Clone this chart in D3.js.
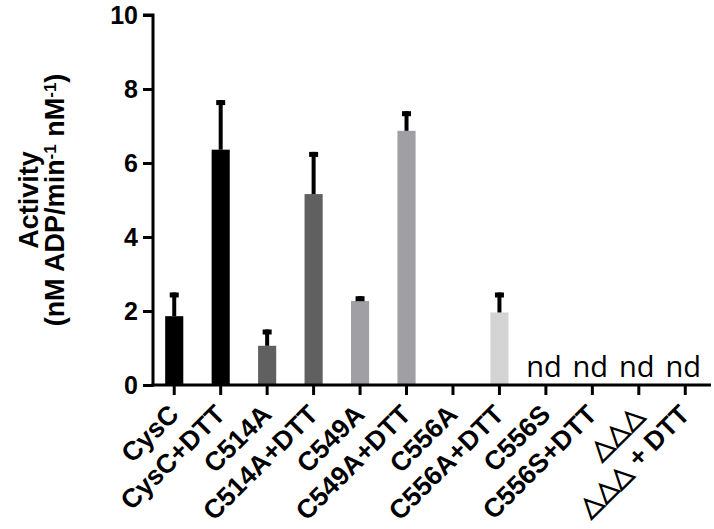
<!DOCTYPE html>
<html>
<head>
<meta charset="utf-8">
<script src="https://cdn.jsdelivr.net/npm/d3@7"></script>
<style>
  body { margin: 0; background: #fff; }
  .axis text { font-family: "Liberation Sans", Arial, sans-serif; font-weight: bold; fill: #000; }
</style>
</head>
<body>
<div id="chart"></div>
<script>
// Data
var categories = ["CysC", "CysC+DTT", "C514A", "C514A+DTT", "C549A", "C549A+DTT",
    "C556A", "C556A+DTT", "C556S", "C556S+DTT", "\u25B3\u25B3\u25B3", "\u25B3\u25B3\u25B3 + DTT"];
var means = [1.86, 6.36, 1.06, 5.16, 2.27, 6.87, null, 1.96, null, null, null, null];
var errTops = [2.5, 7.7, 1.5, 6.3, 2.4, 7.4, null, 2.5, null, null, null, null];
var barColors = ["#000000", "#000000", "#606060", "#606060", "#a0a0a4", "#a0a0a4",
    "#d4d4d4", "#d4d4d4", "#d4d4d4", "#d4d4d4", "#d4d4d4", "#d4d4d4"];
var ndLabels = ["", "", "", "", "", "", "", "", "nd", "nd", "nd", "nd"];
var yTicks = [0, 2, 4, 6, 8, 10];

var svgWidth = 714;
var svgHeight = 529;

var svg = d3.select("#chart")
    .append("svg")
    .attr("width", svgWidth)
    .attr("height", svgHeight);

// Scales
var xScale = d3.scaleBand()
    .domain(categories)
    .range([151, 708.5])
    .paddingInner(0.61)
    .paddingOuter(0.305);

var yScale = d3.scaleLinear()
    .domain([0, 10])
    .range([385, 15]);

var rows = categories.map(function (c, i) {
    return { cat: c, mean: means[i], err: errTops[i], color: barColors[i], nd: ndLabels[i] };
});

// Bars
svg.selectAll("rect.bar")
    .data(rows.filter(d => d.mean !== null))
    .enter()
    .append("rect")
    .attr("class", "bar")
    .attr("x", d => xScale(d.cat))
    .attr("width", xScale.bandwidth())
    .attr("y", d => yScale(d.mean))
    .attr("height", d => yScale(0) - yScale(d.mean))
    .attr("fill", d => d.color);

// Upper error bars only
var errRows = rows.filter(d => d.err !== null);
svg.selectAll("line.err")
    .data(errRows)
    .enter()
    .append("line")
    .attr("class", "err")
    .attr("x1", d => xScale(d.cat) + xScale.bandwidth() / 2)
    .attr("x2", d => xScale(d.cat) + xScale.bandwidth() / 2)
    .attr("y1", d => yScale(d.mean))
    .attr("y2", d => yScale(d.err))
    .attr("stroke", "#000")
    .attr("stroke-width", 4);

svg.selectAll("rect.cap")
    .data(errRows)
    .enter()
    .append("rect")
    .attr("class", "cap")
    .attr("x", d => xScale(d.cat) + xScale.bandwidth() / 2 - 4.5)
    .attr("y", d => yScale(d.err))
    .attr("width", 9)
    .attr("height", 5)
    .attr("fill", "#000");

// "nd" labels
svg.selectAll("text.nd")
    .data(rows.filter(d => d.nd))
    .enter()
    .append("text")
    .attr("class", "nd")
    .attr("x", d => xScale(d.cat) + xScale.bandwidth() / 2 - 2)
    .attr("y", yScale(0) - 8)
    .attr("text-anchor", "middle")
    .style("font-family", "'Open Sans', sans-serif")
    .style("font-size", "29px")
    .text(d => d.nd);

// Axes
var leftAxis = d3.axisLeft(yScale).tickValues(yTicks).tickSize(10).tickPadding(5);
var bottomAxis = d3.axisBottom(xScale).tickSize(10).tickSizeOuter(0);

var yAxisG = svg.append("g")
    .attr("class", "axis")
    .attr("transform", "translate(153, 0)")
    .call(leftAxis);
yAxisG.select(".domain").attr("stroke-width", 3).attr("d", "M-10,15H0V386.5");
yAxisG.selectAll(".tick line").attr("stroke-width", 3);
yAxisG.selectAll("text").style("font-size", "25px");

var xAxisG = svg.append("g")
    .attr("class", "axis")
    .attr("transform", "translate(0, 385)")
    .call(bottomAxis);
xAxisG.select(".domain").attr("stroke-width", 3).attr("d", "M151.5,0H711");
xAxisG.selectAll(".tick line").attr("stroke-width", 3);
xAxisG.selectAll("text")
    .style("font-size", "26.5px")
    .attr("text-anchor", "end")
    .attr("x", 0)
    .attr("y", 0)
    .attr("dy", 0)
    .attr("transform", "translate(6,31) rotate(-45)");

// Y axis title
var title = svg.append("text")
    .attr("transform", "translate(38, 200) rotate(-90)")
    .attr("text-anchor", "middle")
    .style("font-family", "'Liberation Sans', Arial, sans-serif")
    .style("font-weight", "bold")
    .style("font-size", "27px");
title.append("tspan").attr("x", 0).attr("y", 0).text("Activity");
var line2 = title.append("tspan").attr("x", 0).attr("y", 26);
line2.append("tspan").text("(nM ADP/min");
line2.append("tspan").attr("dy", -8).style("font-size", "17px").text("-1");
line2.append("tspan").attr("dy", 8).text(" nM");
line2.append("tspan").attr("dy", -8).style("font-size", "17px").text("-1");
line2.append("tspan").attr("dy", 8).text(")");
</script>
</body>
</html>
